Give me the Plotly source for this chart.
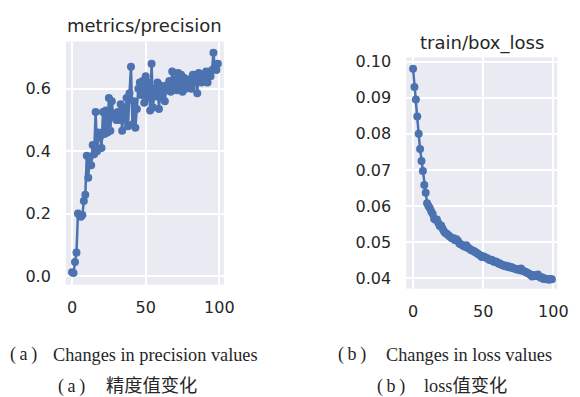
import plotly.graph_objects as go

epochs = list(range(100))

precision = [0.012, 0.010, 0.045, 0.075, 0.200, 0.195, 0.190, 0.195, 0.240, 0.260,
             0.385, 0.315, 0.380, 0.355, 0.420, 0.390, 0.525, 0.400, 0.460, 0.445,
             0.410, 0.525, 0.455, 0.530, 0.460, 0.570, 0.465, 0.560, 0.510, 0.520,
             0.500, 0.525, 0.500, 0.550, 0.465, 0.540, 0.500, 0.570, 0.480, 0.585,
             0.670, 0.485, 0.560, 0.475, 0.535, 0.600, 0.620, 0.580, 0.625, 0.555,
             0.640, 0.570, 0.620, 0.530, 0.680, 0.540, 0.600, 0.575, 0.620, 0.535,
             0.610, 0.570, 0.600, 0.560, 0.610, 0.595, 0.625, 0.590, 0.655, 0.600,
             0.630, 0.595, 0.650, 0.610, 0.645, 0.590, 0.635, 0.600, 0.620, 0.610,
             0.630, 0.600, 0.645, 0.620, 0.630, 0.585, 0.650, 0.635, 0.620, 0.645,
             0.630, 0.655, 0.620, 0.650, 0.640, 0.660, 0.715, 0.665, 0.660, 0.680]

box_loss = [0.0980, 0.0930, 0.0895, 0.0848, 0.0800, 0.0758, 0.0725, 0.0697, 0.0658, 0.0637,
            0.0608, 0.0600, 0.0594, 0.0585, 0.0578, 0.0565, 0.0562, 0.0563, 0.0553, 0.0545,
            0.0546, 0.0538, 0.0530, 0.0525, 0.0523, 0.0520, 0.0516, 0.0513, 0.0510, 0.0511,
            0.0505, 0.0508, 0.0503, 0.0496, 0.0494, 0.0492, 0.0489, 0.0487, 0.0491, 0.0484,
            0.0483, 0.0479, 0.0477, 0.0476, 0.0473, 0.0471, 0.0468, 0.0466, 0.0463, 0.0459,
            0.0461, 0.0459, 0.0457, 0.0455, 0.0452, 0.0450, 0.0451, 0.0448, 0.0445, 0.0446,
            0.0444, 0.0440, 0.0441, 0.0437, 0.0436, 0.0434, 0.0435, 0.0432, 0.0433, 0.0430,
            0.0431, 0.0428, 0.0427, 0.0426, 0.0424, 0.0425, 0.0422, 0.0427, 0.0421, 0.0419,
            0.0418, 0.0416, 0.0414, 0.0412, 0.0408, 0.0405, 0.0409, 0.0406, 0.0407, 0.0410,
            0.0405, 0.0401, 0.0403, 0.0398, 0.0399, 0.0397, 0.0398, 0.0396, 0.0398, 0.0397]

x_ticks = [0, 50, 100]
prec_ticks = [0.0, 0.2, 0.4, 0.6]
loss_ticks = [0.04, 0.05, 0.06, 0.07, 0.08, 0.09, 0.10]

titles = ["metrics/precision", "train/box_loss"]
labels = ["(\u2009a\u2009)", "(\u2009b\u2009)"]
captions_en = ["Changes in precision values", "Changes in loss values"]
captions_zh = ["精度值变化", "loss值变化"]

LINE = "#4C72B0"
BG = "#EAEAF2"
TXT = "#262626"
OFF = 8               # page body margin
W, H = 580 - OFF, 397 - OFF

fig = go.Figure()
fig.add_trace(go.Scatter(x=epochs, y=precision, mode="lines+markers",
                         line=dict(color=LINE, width=2.5),
                         marker=dict(color=LINE, size=8),
                         xaxis="x", yaxis="y", showlegend=False))
fig.add_trace(go.Scatter(x=epochs, y=box_loss, mode="lines+markers",
                         line=dict(color=LINE, width=2.5),
                         marker=dict(color=LINE, size=8),
                         xaxis="x2", yaxis="y2", showlegend=False))


def px_x(p):
    return (p - OFF) / W


def px_y(p):
    return 1 - (p - OFF) / H


axis_common = dict(showgrid=True, gridcolor="white", gridwidth=1.5, zeroline=False,
                   showline=False, ticks="",
                   tickfont=dict(family="DejaVu Sans", size=16, color=TXT))

fig.update_layout(
    width=W, height=H,
    margin=dict(l=0, r=0, t=0, b=0),
    paper_bgcolor="white",
    plot_bgcolor=BG,
    xaxis=dict(domain=[px_x(67), px_x(228)], range=[-4.2, 103], tickvals=x_ticks,
               anchor="y", ticklabelstandoff=11, **axis_common),
    yaxis=dict(domain=[px_y(284), px_y(37)], range=[-0.028, 0.751], tickvals=prec_ticks,
               ticktext=[f"{v:.1f}" for v in prec_ticks],
               anchor="x", ticklabelstandoff=14, **axis_common),
    xaxis2=dict(domain=[px_x(414), px_x(568)], range=[-4.9, 102.8], tickvals=x_ticks,
                anchor="y2", ticklabelstandoff=11, **axis_common),
    yaxis2=dict(domain=[px_y(288), px_y(53)], range=[0.0371, 0.1012], tickvals=loss_ticks,
                ticktext=[f"{v:.2f}" for v in loss_ticks],
                anchor="x2", ticklabelstandoff=14, **axis_common),
)

ann = []


def add(text, x, y, anchor, font, size):
    ann.append(dict(text=text, x=px_x(x), y=px_y(y), xref="paper", yref="paper",
                    xanchor=anchor, yanchor="middle", showarrow=False,
                    font=dict(family=font, size=size, color=TXT)))


add(titles[0], 147, 21, "center", "DejaVu Sans", 18)
add(titles[1], 491, 38, "center", "DejaVu Sans", 18)

serif = "Liberation Serif, Noto Sans CJK SC"
add(labels[0], OFF, 355, "left", serif, 18)
add(captions_en[0], 52, 355, "left", serif, 18.3)
add(labels[1], 358.5, 355, "center", serif, 18)
add(captions_en[1], 391, 355, "left", serif, 18.3)
add(labels[0], 72.5, 387, "center", serif, 18)
add(captions_zh[0], 106, 387, "left", serif, 18.3)
add(labels[1], 398.5, 387, "center", serif, 18)
add(captions_zh[1], 430, 387, "left", serif, 18.3)
fig.update_layout(annotations=ann)

fig.write_html("out.html")
